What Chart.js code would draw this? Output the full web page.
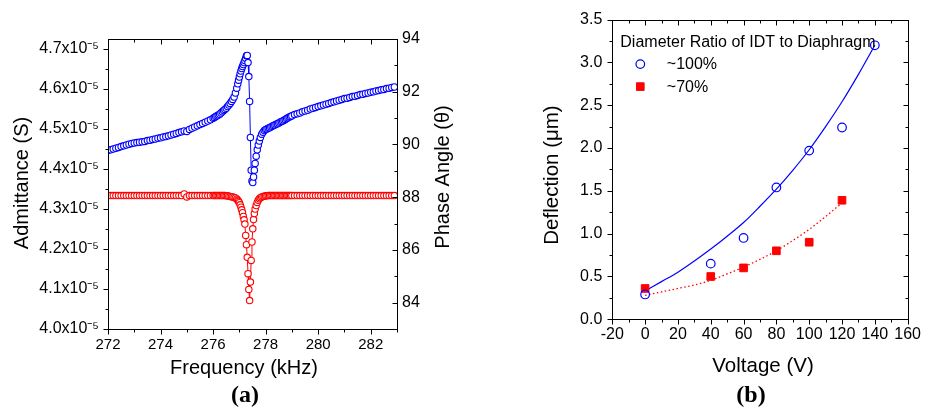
<!DOCTYPE html>
<html>
<head>
<meta charset="utf-8">
<title>Admittance / Deflection</title>
<script src="https://cdn.jsdelivr.net/npm/chart.js@4.4.1/dist/chart.umd.min.js"></script>
<style>
    html, body { margin: 0; padding: 0; background: #fff; }
    .wrap { position: relative; width: 927px; height: 408px; overflow: hidden; }
    canvas { position: absolute; top: 0; }
    #chartA { left: 0; }
    #chartB { left: 463px; }
</style>
</head>
<body>
<div class="wrap">
    <canvas id="chartA" width="463" height="408"></canvas>
    <canvas id="chartB" width="464" height="408"></canvas>
</div>
<script>
// (a) frequency sweep, kHz
const freqKHz = [
    272.0, 272.1, 272.2, 272.3, 272.4, 272.5, 272.6, 272.7, 272.8, 272.9,
    273.0, 273.1, 273.2, 273.3, 273.4, 273.5, 273.6, 273.7, 273.8, 273.9,
    274.0, 274.1, 274.2, 274.3, 274.4, 274.5, 274.6, 274.7, 274.8, 274.9,
    275.0, 275.1, 275.2, 275.3, 275.4, 275.5, 275.6, 275.7, 275.8, 275.9,
    276.0, 276.05, 276.1, 276.15, 276.2, 276.25, 276.3, 276.35, 276.4, 276.45,
    276.5, 276.55, 276.6, 276.65, 276.7, 276.75,
    276.80, 276.85, 276.90, 276.94, 276.97,
    277.00, 277.03, 277.06, 277.09, 277.12, 277.15, 277.18, 277.21, 277.24, 277.27,
    277.30, 277.33, 277.36, 277.39, 277.42, 277.45, 277.48, 277.51, 277.54, 277.57, 277.60,
    277.64, 277.68, 277.72, 277.76, 277.80, 277.85, 277.90, 277.95,
    278.0, 278.05, 278.1, 278.15, 278.2, 278.25, 278.3, 278.35, 278.4, 278.45,
    278.5, 278.55, 278.6, 278.65, 278.7, 278.75, 278.8, 278.85, 278.9, 278.95,
    279.0, 279.1, 279.2, 279.3, 279.4, 279.5, 279.6, 279.7, 279.8, 279.9,
    280.0, 280.1, 280.2, 280.3, 280.4, 280.5, 280.6, 280.7, 280.8, 280.9,
    281.0, 281.1, 281.2, 281.3, 281.4, 281.5, 281.6, 281.7, 281.8, 281.9,
    282.0, 282.1, 282.2, 282.3, 282.4, 282.5, 282.6, 282.7, 282.8, 282.9
];

// admittance in units of 1e-5 S
const admittance = [
    4.446, 4.448, 4.450, 4.452, 4.454, 4.456, 4.458, 4.460, 4.462, 4.464,
    4.465, 4.466, 4.467, 4.468, 4.469, 4.471, 4.472, 4.474, 4.475, 4.477,
    4.478, 4.480, 4.481, 4.483, 4.485, 4.487, 4.489, 4.491, 4.493, 4.495,
    4.494, 4.499, 4.502, 4.505, 4.508, 4.511, 4.514, 4.517, 4.520, 4.523,
    4.527, 4.529, 4.531, 4.533, 4.535, 4.537, 4.540, 4.543, 4.546, 4.549,
    4.552, 4.556, 4.560, 4.564, 4.569, 4.574,
    4.580, 4.590, 4.602, 4.613, 4.622,
    4.630, 4.638, 4.645, 4.651, 4.656, 4.661, 4.666, 4.671, 4.677, 4.683,
    4.684, 4.666, 4.631, 4.569, 4.479, 4.397, 4.370, 4.366, 4.380, 4.397, 4.414,
    4.432, 4.448, 4.460, 4.470, 4.479, 4.487, 4.492, 4.496,
    4.499, 4.500, 4.502, 4.503, 4.505, 4.507, 4.509, 4.510, 4.512, 4.513,
    4.515, 4.517, 4.519, 4.520, 4.522, 4.524, 4.526, 4.528, 4.530, 4.531,
    4.533, 4.536, 4.538, 4.540, 4.543, 4.545, 4.547, 4.550, 4.552, 4.554,
    4.556, 4.558, 4.560, 4.562, 4.564, 4.566, 4.568, 4.570, 4.572, 4.574,
    4.576, 4.577, 4.579, 4.581, 4.582, 4.584, 4.586, 4.587, 4.589, 4.590,
    4.592, 4.593, 4.595, 4.596, 4.598, 4.599, 4.601, 4.602, 4.604, 4.605
];

// phase angle, degrees
const phaseDeg = [
    88.06, 88.06, 88.06, 88.06, 88.06, 88.06, 88.06, 88.06, 88.06, 88.06,
    88.06, 88.06, 88.06, 88.06, 88.06, 88.06, 88.06, 88.06, 88.06, 88.06,
    88.06, 88.06, 88.06, 88.06, 88.06, 88.06, 88.06, 88.06, 88.06, 88.12,
    88.01, 88.06, 88.06, 88.06, 88.06, 88.06, 88.06, 88.06, 88.06, 88.06,
    88.06, 88.06, 88.06, 88.06, 88.06, 88.06, 88.06, 88.06, 88.06, 88.06,
    88.05, 88.05, 88.04, 88.03, 88.02, 88.01,
    87.99, 87.97, 87.93, 87.88, 87.84,
    87.79, 87.71, 87.62, 87.52, 87.41, 87.27, 87.14, 86.98, 86.55, 86.20,
    85.72, 85.10, 84.50, 84.08, 84.78, 85.60, 86.30, 86.80, 87.15, 87.38, 87.55,
    87.68, 87.80, 87.88, 87.94, 87.98, 88.01, 88.03, 88.04,
    88.05, 88.05, 88.06, 88.06, 88.06, 88.06, 88.06, 88.06, 88.06, 88.06,
    88.06, 88.06, 88.06, 88.06, 88.06, 88.06, 88.06, 88.06, 88.06, 88.06,
    88.06, 88.06, 88.06, 88.06, 88.06, 88.06, 88.06, 88.06, 88.06, 88.06,
    88.06, 88.06, 88.06, 88.06, 88.06, 88.06, 88.06, 88.06, 88.06, 88.06,
    88.06, 88.06, 88.06, 88.06, 88.06, 88.06, 88.06, 88.06, 88.06, 88.06,
    88.06, 88.06, 88.06, 88.06, 88.06, 88.06, 88.06, 88.06, 88.06, 88.06
];

const freqTicks = [272, 274, 276, 278, 280, 282];
const admTicks = [4.0, 4.1, 4.2, 4.3, 4.4, 4.5, 4.6, 4.7];
const phaseTicks = [84, 86, 88, 90, 92, 94];

// (b) deflection vs voltage
const voltage100 = [0, 40, 60, 80, 100, 120, 140];
const deflection100 = [0.29, 0.65, 0.95, 1.54, 1.97, 2.24, 3.20];
const voltage70 = [0, 40, 60, 80, 100, 120];
const deflection70 = [0.36, 0.50, 0.60, 0.80, 0.90, 1.39];

const fitVoltage100 = [0, 10, 20, 30, 40, 50, 60, 70, 80, 90, 100, 110, 120, 130, 140];
const fit100 = [0.33, 0.44, 0.55, 0.68, 0.82, 0.97, 1.13, 1.32, 1.52, 1.74, 1.98, 2.25, 2.54, 2.86, 3.20];
const fitVoltage70 = [0, 10, 20, 30, 40, 50, 60, 70, 80, 90, 100, 110, 120];
const fit70 = [0.28, 0.32, 0.36, 0.40, 0.455, 0.53, 0.61, 0.70, 0.80, 0.92, 1.05, 1.20, 1.36];

const voltTicks = [-20, 0, 20, 40, 60, 80, 100, 120, 140, 160];
const deflTicks = [0, 0.5, 1.0, 1.5, 2.0, 2.5, 3.0, 3.5];

const legendTitle = 'Diameter Ratio of IDT to Diaphragm';
const seriesNames = ['~100%', '~70%'];

(function() {
    'use strict';

    const SANS = "'Liberation Sans', Arial, Helvetica, sans-serif";
    const SERIF = "'Liberation Serif', 'Times New Roman', serif";
    const BLUE = '#0000ff';
    const RED = '#ff0000';

    Chart.defaults.font.family = SANS;
    Chart.defaults.color = '#000';

    function pairs(xs, ys) {
        return xs.map((x, i) => ({ x: x, y: ys[i] }));
    }

    function fixedTicks(values) {
        return function(scale) {
            scale.ticks = values.map(v => ({ value: v }));
        };
    }

    function minorValues(majors, min, max) {
        const out = [];
        for (let i = 0; i < majors.length - 1; i++) {
            out.push((majors[i] + majors[i + 1]) / 2);
        }
        const step = majors[1] - majors[0];
        const first = majors[0] - step / 2;
        const last = majors[majors.length - 1] + step / 2;
        if (first >= min) out.push(first);
        if (last <= max) out.push(last);
        return out;
    }

    function drawTickSet(ctx, area, scale, edge, inward) {
        const majors = scale.ticks.map(t => t.value);
        const horiz = edge === 'top' || edge === 'bottom';
        const sign = (edge === 'bottom' || edge === 'right' ? 1 : -1) * (inward ? -1 : 1);
        const base = Math.round(area[edge]) + 0.5;

        function one(v, len) {
            const p = Math.round(scale.getPixelForValue(v)) + 0.5;
            ctx.beginPath();
            if (horiz) {
                ctx.moveTo(p, base);
                ctx.lineTo(p, base + sign * len);
            } else {
                ctx.moveTo(base, p);
                ctx.lineTo(base + sign * len, p);
            }
            ctx.stroke();
        }
        majors.forEach(v => one(v, 5));
        minorValues(majors, scale.min, scale.max).forEach(v => one(v, 3));
    }

    function drawText(ctx, t) {
        ctx.save();
        ctx.font = t.font;
        ctx.fillStyle = '#000';
        ctx.textAlign = t.align || 'center';
        ctx.textBaseline = 'middle';
        ctx.translate(t.x, t.y);
        if (t.rot) ctx.rotate(t.rot);
        ctx.fillText(t.text, 0, 0);
        ctx.restore();
    }

    // frame, inner/outer ticks, axis titles and panel label
    const framePlugin = {
        id: 'originFrame',
        afterDraw(chart, args, opts) {
            const ctx = chart.ctx;
            const a = chart.chartArea;
            ctx.save();
            ctx.strokeStyle = '#000';
            ctx.lineWidth = 1;
            const l = Math.round(a.left) + 0.5, t = Math.round(a.top) + 0.5;
            const r = Math.round(a.right) + 0.5, b = Math.round(a.bottom) + 0.5;
            ctx.strokeRect(l, t, r - l, b - t);
            (opts.ticks || []).forEach(s => {
                drawTickSet(ctx, a, chart.scales[s.scale], s.edge, s.inward);
            });
            ctx.restore();
            (opts.texts || []).forEach(txt => drawText(ctx, txt));
        }
    };

    const legendPlugin = {
        id: 'insideLegend',
        afterDraw(chart, args, opts) {
            if (!opts.display) return;
            const ctx = chart.ctx;
            const a = chart.chartArea;
            drawText(ctx, { text: opts.title, x: a.left + 8, y: a.top + 23, align: 'left', font: '16px ' + SANS });
            opts.items.forEach((it, i) => {
                const ds = chart.data.datasets[it.dataset];
                const y = a.top + 44.5 + i * 22.5;
                ctx.save();
                ctx.strokeStyle = ds.pointBorderColor;
                ctx.fillStyle = ds.pointBackgroundColor;
                ctx.lineWidth = ds.pointBorderWidth;
                Chart.helpers.drawPoint(ctx, {
                    pointStyle: ds.pointStyle,
                    radius: ds.pointRadius,
                    rotation: 0,
                    borderWidth: ds.pointBorderWidth
                }, a.left + 28, y);
                ctx.restore();
                drawText(ctx, { text: ds.label, x: a.left + 54.5, y: y + 0.5, align: 'left', font: '16px ' + SANS });
            });
        }
    };

    function initAdmittanceChart() {
        const ctx = document.getElementById('chartA');
        new Chart(ctx, {
            type: 'line',
            data: {
                datasets: [{
                    label: 'Admittance',
                    data: pairs(freqKHz, admittance),
                    yAxisID: 'y',
                    borderColor: BLUE,
                    borderWidth: 1,
                    pointRadius: 3.2,
                    pointBorderWidth: 1.1,
                    pointBorderColor: BLUE,
                    pointBackgroundColor: '#fff',
                    tension: 0
                }, {
                    label: 'Phase',
                    data: pairs(freqKHz, phaseDeg),
                    yAxisID: 'y2',
                    borderColor: RED,
                    borderWidth: 1,
                    pointRadius: 3.2,
                    pointBorderWidth: 1.1,
                    pointBorderColor: RED,
                    pointBackgroundColor: '#fff',
                    tension: 0
                }]
            },
            options: {
                responsive: false,
                animation: false,
                devicePixelRatio: 1,
                layout: { padding: { top: 39, left: 0, right: 0, bottom: 0 } },
                plugins: {
                    legend: { display: false },
                    tooltip: { enabled: false },
                    insideLegend: { display: false },
                    originFrame: {
                        ticks: [
                            { scale: 'x', edge: 'bottom', inward: false },
                            { scale: 'x', edge: 'top', inward: true },
                            { scale: 'y', edge: 'left', inward: false },
                            { scale: 'y2', edge: 'right', inward: true }
                        ],
                        texts: [
                            { text: 'Frequency (kHz)', x: 244, y: 368, font: '20px ' + SANS },
                            { text: 'Admittance (S)', x: 22, y: 183, rot: -Math.PI / 2, font: '20px ' + SANS },
                            { text: 'Phase Angle (\u03b8)', x: 443, y: 177, rot: -Math.PI / 2, font: '20px ' + SANS },
                            { text: '(a)', x: 245, y: 396, font: 'bold 24px ' + SERIF }
                        ]
                    }
                },
                scales: {
                    x: {
                        type: 'linear',
                        min: 272,
                        max: 283,
                        afterBuildTicks: fixedTicks(freqTicks),
                        afterFit: function(scale) { scale.height = 79; },
                        grid: { display: false, drawTicks: false },
                        border: { display: false },
                        ticks: { padding: 7, font: { size: 15 }, callback: v => String(v) }
                    },
                    y: {
                        type: 'linear',
                        position: 'left',
                        min: 4.0,
                        max: 4.725,
                        afterBuildTicks: fixedTicks(admTicks),
                        afterFit: function(scale) { scale.width = 108; },
                        grid: { display: false, drawTicks: false },
                        border: { display: false },
                        ticks: { padding: 9, font: { size: 16 }, callback: v => v.toFixed(1) + 'x10\u207b\u2075' }
                    },
                    y2: {
                        type: 'linear',
                        position: 'right',
                        min: 83,
                        max: 94,
                        afterBuildTicks: fixedTicks(phaseTicks),
                        afterFit: function(scale) { scale.width = 66; },
                        grid: { display: false, drawTicks: false },
                        border: { display: false },
                        ticks: { padding: 5, font: { size: 16 }, callback: v => String(v) }
                    }
                }
            },
            plugins: [framePlugin, legendPlugin]
        });
    }

    function initDeflectionChart() {
        const ctx = document.getElementById('chartB');
        new Chart(ctx, {
            type: 'line',
            data: {
                datasets: [{
                    label: seriesNames[0],
                    data: pairs(voltage100, deflection100),
                    showLine: false,
                    pointStyle: 'circle',
                    pointRadius: 4.3,
                    pointBorderWidth: 1.2,
                    pointBorderColor: BLUE,
                    pointBackgroundColor: 'rgba(0,0,0,0)',
                    order: 0
                }, {
                    label: seriesNames[1],
                    data: pairs(voltage70, deflection70),
                    showLine: false,
                    pointStyle: 'rect',
                    pointRadius: 5.4,
                    pointBorderWidth: 1,
                    pointBorderColor: RED,
                    pointBackgroundColor: RED,
                    order: 0
                }, {
                    label: 'fit ~100%',
                    data: pairs(fitVoltage100, fit100),
                    borderColor: BLUE,
                    borderWidth: 1.2,
                    pointRadius: 0,
                    cubicInterpolationMode: 'monotone',
                    order: 1
                }, {
                    label: 'fit ~70%',
                    data: pairs(fitVoltage70, fit70),
                    borderColor: RED,
                    borderWidth: 1.3,
                    borderDash: [1.5, 2.5],
                    pointRadius: 0,
                    cubicInterpolationMode: 'monotone',
                    order: 1
                }]
            },
            options: {
                responsive: false,
                animation: false,
                devicePixelRatio: 1,
                layout: { padding: { top: 17, left: 0, right: 13, bottom: 0 } },
                plugins: {
                    legend: { display: false },
                    tooltip: { enabled: false },
                    insideLegend: {
                        display: true,
                        title: legendTitle,
                        items: [{ dataset: 0 }, { dataset: 1 }]
                    },
                    originFrame: {
                        ticks: [
                            { scale: 'x', edge: 'bottom', inward: false },
                            { scale: 'x', edge: 'top', inward: true },
                            { scale: 'y', edge: 'left', inward: false },
                            { scale: 'y', edge: 'right', inward: true }
                        ],
                        texts: [
                            { text: 'Voltage (V)', x: 300, y: 366, font: '20.5px ' + SANS },
                            { text: 'Deflection (\u03bcm)', x: 89, y: 175, rot: -Math.PI / 2, font: '20.5px ' + SANS },
                            { text: '(b)', x: 288, y: 396, font: 'bold 24px ' + SERIF }
                        ]
                    }
                },
                scales: {
                    x: {
                        type: 'linear',
                        min: -20,
                        max: 160,
                        afterBuildTicks: fixedTicks(voltTicks),
                        afterFit: function(scale) { scale.height = 88.7; },
                        grid: { display: false, drawTicks: false },
                        border: { display: false },
                        ticks: { padding: 6, font: { size: 16 }, callback: v => String(v) }
                    },
                    y: {
                        type: 'linear',
                        min: 0,
                        max: 3.5,
                        afterBuildTicks: fixedTicks(deflTicks),
                        afterFit: function(scale) { scale.width = 149.3; },
                        grid: { display: false, drawTicks: false },
                        border: { display: false },
                        ticks: { padding: 10, font: { size: 16 }, callback: v => v.toFixed(1) }
                    }
                }
            },
            plugins: [framePlugin, legendPlugin]
        });
    }

    initAdmittanceChart();
    initDeflectionChart();
})();
</script>
</body>
</html>
